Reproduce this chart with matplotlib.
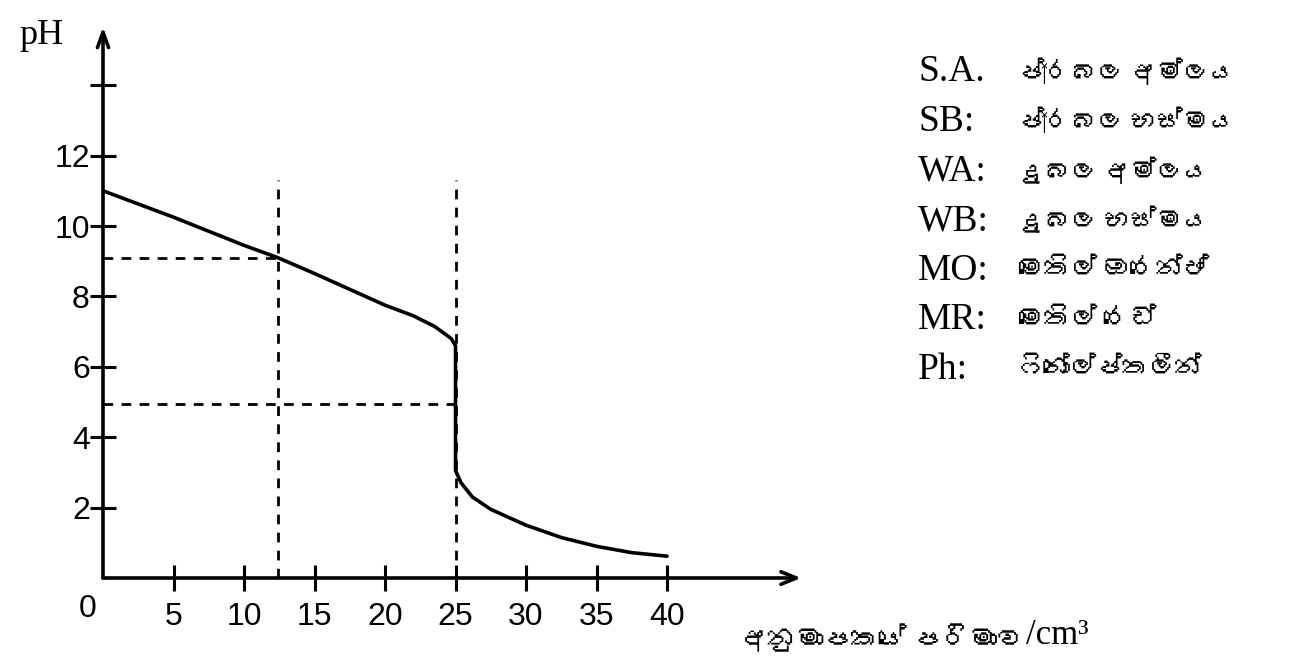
import matplotlib
matplotlib.use("Agg")
import matplotlib.pyplot as plt
from matplotlib import font_manager as fm
from matplotlib.ft2font import FT2Font

# ---------------- data ----------------
volume = [0, 5, 10, 12.4, 15, 20, 22, 23.5, 24.2, 24.7, 25, 25,
          25.4, 26.2, 27.5, 30, 32.5, 35, 37.5, 40]
ph = [11.0, 10.25, 9.45, 9.1, 8.65, 7.75, 7.45, 7.15, 6.95, 6.8, 6.6, 3.05,
      2.7, 2.3, 1.95, 1.5, 1.15, 0.9, 0.72, 0.62]

half_eq_vol = 12.4
half_eq_ph = 9.1
eq_vol = 25
mid_ph = 4.95
dash_top = 11.3

x_ticks = [5, 10, 15, 20, 25, 30, 35, 40]
y_ticks = [2, 4, 6, 8, 10, 12, 14]
y_tick_labels = ["2", "4", "6", "8", "10", "12", ""]

legend_keys = ["S.A.", "SB:", "WA:", "WB:", "MO:", "MR:", "Ph:"]
legend_vals = ["ප්‍රබල අම්ලය", "ප්‍රබල භස්මය", "දුබල අම්ලය", "දුබල භස්මය",
               "මෙතිල් ඔරෙන්ජ්", "මෙතිල් රෙඩ්", "ෆිනෝල්ප්තලීන්"]
x_label_si = "අනුමාපකයේ පරිමාව"
x_label_unit = "/cm³"
y_label = "pH"

# ---------------- fonts ----------------
def font_with(ch):
    for f in fm.fontManager.ttflist:
        try:
            if ord(ch) in FT2Font(f.fname).get_charmap():
                return f.name
        except Exception:
            pass
    return None

sin = font_with("අ")
serif_fam = ["Liberation Serif"] + ([sin] if sin else []) + ["DejaVu Sans"]
sans_fam = ["Liberation Sans", "DejaVu Sans"]

# ---------------- figure ----------------
W, H = 1307, 665
fig = plt.figure(figsize=(W / 100, H / 100), dpi=100)
x0, x1 = 103, 801
y0, y1 = 578, 27
ax = fig.add_axes([x0 / W, (H - y0) / H, (x1 - x0) / W, (y0 - y1) / H])
xmax = 49.5
ymax = (y0 - y1) / 35.2
ax.set_xlim(0, xmax)
ax.set_ylim(0, ymax)
for s in ax.spines.values():
    s.set_visible(False)

# axes with arrows
ax.annotate("", xy=(xmax, 0), xytext=(0, 0),
            arrowprops=dict(arrowstyle="->,head_length=1.1,head_width=0.45",
                            lw=2.6, color="black", shrinkA=0, shrinkB=0),
            annotation_clip=False)
ax.annotate("", xy=(0, ymax), xytext=(0, 0),
            arrowprops=dict(arrowstyle="->,head_length=1.1,head_width=0.4",
                            lw=2.6, color="black", shrinkA=0, shrinkB=0),
            annotation_clip=False)

ax.set_xticks(x_ticks)
ax.set_xticklabels([str(v) for v in x_ticks], family=sans_fam, fontsize=23)
ax.set_yticks(y_ticks)
ax.set_yticklabels(y_tick_labels, family=sans_fam, fontsize=23)
ax.tick_params(axis="both", direction="inout", length=19, width=2.2,
               color="black")
ax.tick_params(axis="x", pad=8)
ax.tick_params(axis="y", pad=0)

ax.text(-1.1, -0.45, "0", family=sans_fam, fontsize=23, ha="center",
        va="top")

# titration curve
ax.plot(volume, ph, color="black", lw=2.6, solid_joinstyle="round",
        solid_capstyle="round")

# dashed guide lines
dash = dict(color="black", lw=2.0, ls=(0, (3.5, 3.0)))
ax.plot([half_eq_vol, half_eq_vol], [0, dash_top], **dash)
ax.plot([eq_vol, eq_vol], [0, dash_top], **dash)
ax.plot([0, half_eq_vol], [half_eq_ph, half_eq_ph], **dash)
ax.plot([0, eq_vol], [mid_ph, mid_ph], **dash)

# axis labels
fig.text(19 / W, 1 - 36 / H, y_label, family=serif_fam, fontsize=26,
         ha="left", va="center")
t = fig.text(740 / W, 1 - 640 / H, x_label_si, family=serif_fam,
             fontsize=20, ha="left", va="center")
fig.canvas.draw()
bb = t.get_window_extent()
fig.text((bb.x1 + 2) / W, 1 - 636 / H, x_label_unit, family=serif_fam,
         fontsize=25, ha="left", va="center")

# legend text
for i, (k, v) in enumerate(zip(legend_keys, legend_vals)):
    yy = 1 - (72 + i * 49.6) / H
    fig.text(918 / W, yy, k, family=serif_fam, fontsize=27, ha="left",
             va="center")
    fig.text(1018 / W, yy, v, family=serif_fam, fontsize=19, ha="left",
             va="center")

fig.savefig("out.png", dpi=100)
